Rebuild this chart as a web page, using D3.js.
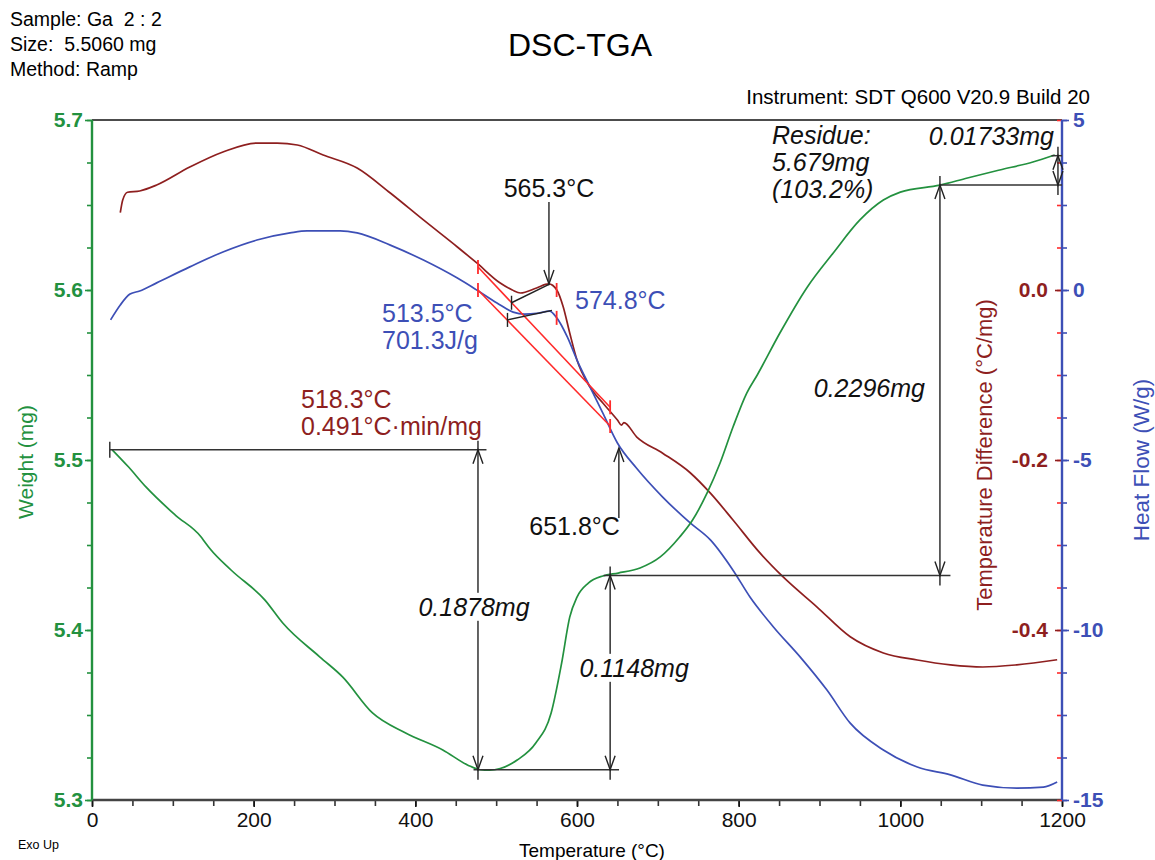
<!DOCTYPE html>
<html>
<head>
<meta charset="utf-8">
<script src="https://cdn.jsdelivr.net/npm/d3@7"></script>
<style>
  body { margin: 0; background: #fff; }
  text { font-family: "Liberation Sans", Arial, sans-serif; }
</style>
</head>
<body>
<svg id="chart" width="1155" height="860"></svg>
<script>
// ---- data: [temperature °C, value] ----
const weightCurve = [
  [25, 5.506], [45, 5.496], [67, 5.484], [103, 5.4676], [135, 5.4547], [140, 5.4515],
  [146, 5.4478], [172, 5.4353], [214, 5.4176], [236, 5.4041], [282, 5.3841], [310, 5.3724],
  [347, 5.3512], [388, 5.3394], [434, 5.3294], [465, 5.3205], [480, 5.3178], [492, 5.3175],
  [505, 5.3185], [526, 5.3235], [549, 5.3335], [568, 5.3512], [581, 5.3806], [591, 5.4076],
  [600, 5.4194], [614, 5.4276], [632, 5.4318], [651, 5.4335], [678, 5.4365], [703, 5.443],
  [727, 5.4547], [743, 5.4647], [761, 5.4806], [777, 5.4982], [793, 5.5194], [810, 5.5394],
  [823, 5.5500], [851, 5.5747], [885, 5.6018], [917, 5.6218], [950, 5.6412], [979, 5.6529],
  [1000, 5.6576], [1049, 5.6617], [1083, 5.6659], [1123, 5.6706], [1164, 5.6753], [1191, 5.6794]
];

const heatFlowCurve = [
  [23, -0.88], [35, -0.44], [47, -0.12], [59, -0.03], [80, 0.21], [121, 0.68], [162, 1.12],
  [204, 1.47], [245, 1.68], [266, 1.74], [307, 1.74], [328, 1.68], [369, 1.32], [410, 0.88],
  [452, 0.35], [476, 0.0], [501, -0.38], [521, -0.65], [535, -0.71], [550, -0.69], [566, -0.62],
  [575, -0.82], [588, -1.38], [600, -2.06], [616, -2.85], [632, -3.62], [650, -4.5], [674, -5.25],
  [706, -6.09], [740, -6.85], [765, -7.35], [793, -8.24], [814, -9.03], [843, -9.91], [876, -10.79],
  [909, -11.76], [938, -12.74], [979, -13.53], [1021, -14.03], [1062, -14.26], [1102, -14.56],
  [1144, -14.65], [1177, -14.62], [1194, -14.47]
];

const tempDiffCurve = [
  [35, 0.091], [38, 0.106], [44, 0.115], [59, 0.1165], [80, 0.1235], [121, 0.1447], [162, 0.1624],
  [204, 0.1729], [229, 0.1729], [254, 0.1706], [286, 0.1588], [328, 0.1435], [369, 0.1141],
  [410, 0.0824], [452, 0.0506], [476, 0.0318], [505, 0.0082], [520, 0.0], [530, -0.0035],
  [550, 0.0024], [565, 0.0071], [575, 0.0], [583, -0.02], [591, -0.0506], [600, -0.0824],
  [616, -0.114], [632, -0.133], [650, -0.153], [655, -0.159], [658, -0.156], [674, -0.173],
  [706, -0.192], [740, -0.215], [765, -0.239], [793, -0.2706], [826, -0.309], [855, -0.3376],
  [897, -0.373], [938, -0.408], [979, -0.427], [1021, -0.4353], [1062, -0.441], [1102, -0.4435],
  [1144, -0.441], [1194, -0.435]
];

// ---- ticks ----
const tempTicks = [0, 200, 400, 600, 800, 1000, 1200];
const weightTicks = [5.3, 5.4, 5.5, 5.6, 5.7];
const tempDiffTicks = [-0.4, -0.2, 0.0];
const heatFlowTicks = [-15, -10, -5, 0, 5];

// ---- analysis annotations ----
// weight reference lines: [T start, T end, weight]
const weightRefLines = [
  [22, 488, 5.506], [472, 652, 5.3178], [633, 1062, 5.4321], [1049, 1200, 5.6617], [1187, 1200, 5.679]
];
// weight steps: [T, low weight, high weight]
const weightSteps = [[477.5, 5.3178, 5.506], [641, 5.3178, 5.4321], [1049, 5.4321, 5.6617], [1195, 5.6617, 5.679]];
const weightStepLabels = ["0.1878mg", "0.1148mg", "0.2296mg", "0.01733mg"];
const residueLabels = ["Residue:", "5.679mg", "(103.2%)"];

// onset baselines (red) and peak integration lines (black)
const tdBaseline = [[477.5, 0.027], [641, -0.138]];
const hfBaseline = [[477.5, 0.0], [641, -4.0]];
const tdRedTicks = [[477.5, 0.027], [574.8, 0.0], [641, -0.138]];
const hfRedTicks = [[477.5, 0.0], [574.8, -0.82], [641, -4.0]];
const tdPeakLine = [[519, -0.015], [566, 0.007]];
const hfPeakLine = [[514, -0.88], [569, -0.6]];

const headerLines = ["Sample: Ga  2 : 2", "Size:  5.5060 mg", "Method: Ramp"];

// ---- colours ----
const cGreen = "#23913f", cBrown = "#8e1f1f", cBlue = "#3d4fb6", cRed = "#ff2b2b", cInk = "#222";

const svg = d3.select("#chart");
const x = d3.scaleLinear().domain([0, 1200]).range([92, 1062]);
const yW = d3.scaleLinear().domain([5.3, 5.7]).range([800, 120]);
const yTD = d3.scaleLinear().domain([-0.6, 0.2]).range([800, 120]);
const yHF = d3.scaleLinear().domain([-15, 5]).range([800, 120]);

// header texts
svg.selectAll(".hdr").data(headerLines).join("text")
  .attr("x", 10).attr("y", (d, i) => 26 + i * 25)
  .attr("font-size", 19.5).style("white-space", "pre").text(d => d);
svg.append("text").attr("x", 580).attr("y", 56).attr("text-anchor", "middle")
  .attr("font-size", 32).text("DSC-TGA");
svg.append("text").attr("x", 1090).attr("y", 104).attr("text-anchor", "end")
  .attr("font-size", 20.5).text("Instrument: SDT Q600 V20.9 Build 20");

// top frame line
svg.append("line").attr("x1", 92).attr("x2", 1062).attr("y1", 120).attr("y2", 120)
  .attr("stroke", "#111").attr("stroke-width", 1.6);

// axes
function styleAxis(g, color, size, weight) {
  g.select(".domain").remove();
  g.selectAll("line").attr("stroke", color).attr("stroke-width", 1.6);
  g.selectAll("text").attr("fill", color).attr("font-size", size)
    .attr("font-family", "Liberation Sans, Arial, sans-serif").attr("font-weight", weight || "normal");
}
const range = (a, b, s) => d3.range(Math.round((b - a) / s) + 1).map(i => +(a + i * s).toFixed(4));

// bottom axis
const gx = svg.append("g").attr("transform", "translate(0,800)");
gx.append("g").call(d3.axisBottom(x).tickValues(range(0, 1200, 50)).tickSize(6).tickFormat(""))
  .call(g => styleAxis(g, "#333", 0));
gx.append("g").call(d3.axisBottom(x).tickValues(tempTicks).tickSize(7).tickPadding(5).tickFormat(d3.format("d")))
  .call(g => styleAxis(g, "#111", 21));
svg.append("line").attr("x1", 92).attr("x2", 1062).attr("y1", 800).attr("y2", 800)
  .attr("stroke", "#444").attr("stroke-width", 2.4);

// left weight axis
const gl = svg.append("g").attr("transform", "translate(92,0)");
gl.append("g").call(d3.axisLeft(yW).tickValues(range(5.3, 5.7, 0.025)).tickSize(5).tickFormat(""))
  .call(g => styleAxis(g, cGreen, 0));
gl.append("g").call(d3.axisLeft(yW).tickValues(weightTicks).tickSize(7).tickPadding(2).tickFormat(d3.format(".1f")))
  .call(g => styleAxis(g, cGreen, 21, "bold"));
svg.append("line").attr("x1", 92).attr("x2", 92).attr("y1", 120).attr("y2", 800)
  .attr("stroke", cGreen).attr("stroke-width", 2.4);

// right temperature-difference axis (labels on the left of the line)
const gr = svg.append("g").attr("transform", "translate(1062,0)");
gr.append("g").call(d3.axisLeft(yTD).tickValues(range(-0.6, 0.2, 0.05)).tickSize(5).tickFormat(""))
  .call(g => styleAxis(g, cRed, 0));
gr.append("g").call(d3.axisLeft(yTD).tickValues(tempDiffTicks).tickSize(7).tickPadding(7).tickFormat(d => d.toFixed(1)))
  .call(g => styleAxis(g, cBrown, 21, "bold"));
// right heat-flow axis
gr.append("g").call(d3.axisRight(yHF).tickValues(range(-15, 5, 1.25)).tickSize(5).tickFormat(""))
  .call(g => styleAxis(g, cBlue, 0));
gr.append("g").call(d3.axisRight(yHF).tickValues(heatFlowTicks).tickSize(7).tickPadding(4).tickFormat(d => String(d)))
  .call(g => styleAxis(g, cBlue, 21, "bold"));
svg.append("line").attr("x1", 1062).attr("x2", 1062).attr("y1", 120).attr("y2", 800)
  .attr("stroke", cBlue).attr("stroke-width", 2.4);

// axis titles
svg.append("text").attr("transform", "translate(33,462) rotate(-90)").attr("text-anchor", "middle")
  .attr("font-size", 21).attr("fill", cGreen).text("Weight (mg)");
svg.append("text").attr("transform", "translate(992,455) rotate(-90)").attr("text-anchor", "middle")
  .attr("font-size", 22).attr("fill", cBrown).text("Temperature Difference (°C/mg)");
svg.append("text").attr("transform", "translate(1149,460) rotate(-90)").attr("text-anchor", "middle")
  .attr("font-size", 22.5).attr("fill", cBlue).text("Heat Flow (W/g)");
svg.append("text").attr("x", 592).attr("y", 857).attr("text-anchor", "middle")
  .attr("font-size", 19).text("Temperature (°C)");
svg.append("text").attr("x", 18).attr("y", 849).attr("font-size", 12.5).text("Exo Up");

// curves
const plot = svg.append("g");
const lineOf = ys => d3.line().x(d => x(d[0])).y(d => ys(d[1])).curve(d3.curveMonotoneX);
plot.append("path").datum(tempDiffCurve).attr("d", lineOf(yTD))
  .attr("fill", "none").attr("stroke", cBrown).attr("stroke-width", 1.7);
plot.append("path").datum(heatFlowCurve).attr("d", lineOf(yHF))
  .attr("fill", "none").attr("stroke", cBlue).attr("stroke-width", 1.7);
plot.append("path").datum(weightCurve).attr("d", lineOf(yW))
  .attr("fill", "none").attr("stroke", cGreen).attr("stroke-width", 1.7);

// ---- annotations ----
const ann = svg.append("g");
const straight = ys => d3.line().x(d => x(d[0])).y(d => ys(d[1]));

// red onset baselines with ticks
[[tdBaseline, yTD], [hfBaseline, yHF]].forEach(([pts, ys]) => {
  ann.append("path").attr("d", straight(ys)(pts)).attr("stroke", cRed).attr("stroke-width", 1.6).attr("fill", "none");
});
[[tdRedTicks, yTD], [hfRedTicks, yHF]].forEach(([pts, ys]) => {
  ann.selectAll(null).data(pts).join("line")
    .attr("x1", d => x(d[0])).attr("x2", d => x(d[0]))
    .attr("y1", d => ys(d[1]) - 7).attr("y2", d => ys(d[1]) + 7)
    .attr("stroke", cRed).attr("stroke-width", 1.8);
});

// black peak lines with a tick at the left end
[[tdPeakLine, yTD], [hfPeakLine, yHF]].forEach(([pts, ys]) => {
  ann.append("path").attr("d", straight(ys)(pts)).attr("stroke", cInk).attr("stroke-width", 1.4).attr("fill", "none");
  ann.append("line").attr("x1", x(pts[0][0])).attr("x2", x(pts[0][0]))
    .attr("y1", ys(pts[0][1]) - 7).attr("y2", ys(pts[0][1]) + 7).attr("stroke", cInk).attr("stroke-width", 1.4);
});

function arrowHead(g, px, py, dir) { // dir: -1 tip up, 1 tip down
  g.append("path").attr("d", `M${px - 5},${py - dir * 14} L${px},${py} L${px + 5},${py - dir * 14}`)
    .attr("fill", "none").attr("stroke", cInk).attr("stroke-width", 1.4);
}

// 565.3 °C peak arrow (down onto the DTA peak)
const peakT = 565.3, peakY = yTD(0.0071);
ann.append("line").attr("x1", x(peakT)).attr("x2", x(peakT)).attr("y1", peakY - 82).attr("y2", peakY)
  .attr("stroke", cInk).attr("stroke-width", 1.4);
arrowHead(ann, x(peakT), peakY, 1);
ann.append("text").attr("x", x(peakT)).attr("y", peakY - 87).attr("text-anchor", "middle")
  .attr("font-size", 25).attr("fill", "#111").text("565.3°C");

// 651.8 °C arrow (up onto the heat-flow curve)
const endT = 651.8, endY = yHF(-4.65);
ann.append("line").attr("x1", x(endT)).attr("x2", x(endT)).attr("y1", endY).attr("y2", endY + 70)
  .attr("stroke", cInk).attr("stroke-width", 1.4);
arrowHead(ann, x(endT), endY, -1);
ann.append("text").attr("x", x(endT) + 1).attr("y", endY + 87).attr("text-anchor", "end")
  .attr("font-size", 25).attr("fill", "#111").text("651.8°C");

// DSC / DTA result labels
const addLines = (lines, px, py, color) => lines.forEach((t, i) =>
  ann.append("text").attr("x", px).attr("y", py + i * 27)
    .attr("font-size", 25).attr("fill", color).text(t));
addLines(["513.5°C", "701.3J/g"], 382, 322, cBlue);
addLines(["574.8°C"], 575, 309, cBlue);
addLines(["518.3°C", "0.491°C·min/mg"], 301, 408, cBrown);

// weight reference lines
ann.selectAll(null).data(weightRefLines).join("line")
  .attr("x1", d => x(d[0])).attr("x2", d => x(d[1])).attr("y1", d => yW(d[2])).attr("y2", d => yW(d[2]))
  .attr("stroke", "#333").attr("stroke-width", 1.5);
ann.append("line").attr("x1", x(22)).attr("x2", x(22)).attr("y1", yW(5.506) - 8).attr("y2", yW(5.506) + 8)
  .attr("stroke", "#333").attr("stroke-width", 1.5);

// weight step dimension arrows
weightSteps.forEach(([t, lo, hi]) => {
  const px = x(t);
  ann.append("line").attr("x1", px).attr("x2", px).attr("y1", yW(hi) - 9).attr("y2", yW(lo) + 10)
    .attr("stroke", cInk).attr("stroke-width", 1.4);
  arrowHead(ann, px, yW(hi), -1);
  arrowHead(ann, px, yW(lo), 1);
});

// weight step labels (italic); first two sit on the arrow with a white gap
const stepLabelPos = [
  { dx: -4, y: yW(5.4135), anchor: "middle", gap: true },
  { dx: 24, y: yW(5.3776), anchor: "middle", gap: true },
  { dx: -15, y: yW(5.5424), anchor: "end", gap: false },
  { dx: -4, y: 136, anchor: "end", gap: false }
];
weightSteps.forEach(([t], i) => {
  const p = stepLabelPos[i];
  const txt = ann.append("text").attr("x", x(t) + p.dx).attr("y", p.y).attr("dy", "0.35em")
    .attr("text-anchor", p.anchor).attr("font-size", 25).attr("font-style", "italic")
    .attr("fill", "#111").text(weightStepLabels[i]);
  if (p.gap) {
    const b = txt.node().getBBox();
    ann.insert("rect", () => txt.node()).attr("x", b.x - 2).attr("y", b.y)
      .attr("width", b.width + 4).attr("height", b.height).attr("fill", "#fff");
  }
});

// residue label
residueLabels.forEach((t, i) =>
  ann.append("text").attr("x", 772).attr("y", 144 + i * 27).attr("font-size", 25)
    .attr("font-style", "italic").attr("fill", "#111").text(t));
</script>
</body>
</html>
